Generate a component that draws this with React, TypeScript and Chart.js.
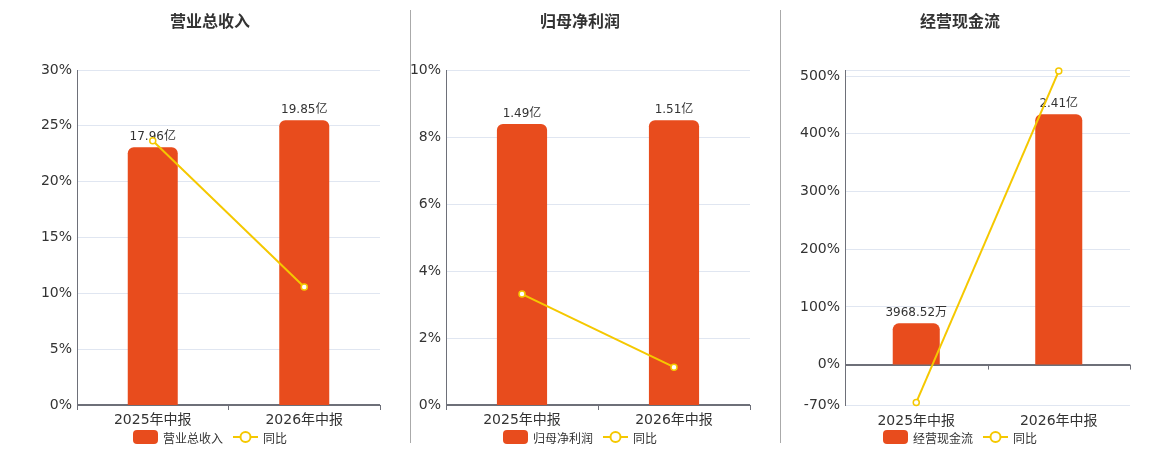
import React, { useEffect, useRef } from 'react';
import { Chart, registerables } from 'chart.js';

Chart.register(...registerables);

const periods = ['2025年中报', '2026年中报'];

// bar values in 亿
const revenue = [17.96, 19.85];
const netProfit = [1.49, 1.51];
const cashFlow = [0.396852, 2.41];

// 同比 in %
const revenueYoy = [23.67, 10.57];
const netProfitYoy = [3.31, 1.13];
const cashFlowYoy = [-65.5, 508.7];

// y axis ticks (%)
const revenueTicks = [0, 5, 10, 15, 20, 25, 30];
const netProfitTicks = [0, 2, 4, 6, 8, 10];
const cashFlowTicks = [-70, 0, 100, 200, 300, 400, 500];
const cashFlowMax = 510.5;

const BAR = '#E84C1D';
const LINE = '#F5C800';
const AXIS = '#6E7079';
const GRID = '#E0E6F1';
const TEXT = '#333';
const FONT = "'DejaVu Sans', 'Noto Sans CJK SC', sans-serif";

const fmt = (v: number) => (v >= 1 ? v.toFixed(2) + '亿' : (v * 10000).toFixed(2) + '万');

interface PanelProps {
  left: number;
  width: number;
  yWidth: number;
  padRight: number;
  centerX: number;
  title: string;
  bars: number[];
  yoy: number[];
  ticks: number[];
  max?: number;
}

const Panel: React.FC<PanelProps> = ({ left, width, yWidth, padRight, centerX, title, bars, yoy, ticks, max }) => {
  const ref = useRef<HTMLCanvasElement>(null);

  useEffect(() => {
    if (!ref.current) return;
    const yMin = ticks[0];
    const yMax = max ?? ticks[ticks.length - 1];
    const hasNeg = yMin < 0;
    const barMax = Math.max(...bars) / 0.85;
    const barMin = hasNeg ? (barMax * yMin) / yMax : 0;
    const tickList = ticks.includes(yMax) ? ticks : [...ticks, yMax];

    const valueLabels = {
      id: 'valueLabels',
      afterDatasetDraw(chart: any, args: any) {
        if (chart.data.datasets[args.index].type !== 'bar') return;
        const ctx = chart.ctx;
        ctx.save();
        ctx.font = `12px ${FONT}`;
        ctx.fillStyle = TEXT;
        ctx.textAlign = 'center';
        ctx.textBaseline = 'bottom';
        args.meta.data.forEach((el: any, i: number) => {
          ctx.fillText(fmt(bars[i]), el.x, el.y - 4);
        });
        ctx.restore();
      },
    };

    // tick marks on the zero line when the axis crosses zero
    const zeroTicks = {
      id: 'zeroTicks',
      afterDraw(chart: any) {
        if (!hasNeg) return;
        const xs = chart.scales.x;
        const y0 = chart.scales.y.getPixelForValue(0);
        const ctx = chart.ctx;
        ctx.save();
        ctx.strokeStyle = AXIS;
        ctx.lineWidth = 1;
        for (let i = 0; i <= periods.length; i++) {
          const px = Math.round(xs.getPixelForValue(i - 0.5)) + 0.5;
          ctx.beginPath();
          ctx.moveTo(px, y0);
          ctx.lineTo(px, y0 + 5);
          ctx.stroke();
        }
        ctx.restore();
      },
    };

    const chart = new Chart(ref.current, {
      type: 'bar',
      data: {
        labels: periods,
        datasets: [
          {
            type: 'line',
            label: '同比',
            data: yoy,
            yAxisID: 'y',
            borderColor: LINE,
            borderWidth: 2,
            pointRadius: 3,
            pointBackgroundColor: '#fff',
            pointBorderColor: LINE,
            pointBorderWidth: 1.5,
            clip: false,
            order: 0,
          } as any,
          {
            type: 'bar',
            label: title,
            data: bars,
            yAxisID: 'y1',
            backgroundColor: BAR,
            borderRadius: 6,
            barPercentage: 0.33,
            categoryPercentage: 1,
            order: 1,
          },
        ],
      },
      options: {
        animation: false,
        responsive: false,
        layout: { padding: { top: 70, bottom: 15, left: 0, right: padRight } },
        plugins: {
          legend: { display: false },
          title: { display: false },
          tooltip: { enabled: false },
        },
        scales: {
          x: {
            offset: true,
            grid: {
              display: !hasNeg,
              drawOnChartArea: false,
              drawTicks: true,
              tickLength: 5,
              color: AXIS,
              offset: true,
            },
            border: { display: false },
            ticks: { font: { size: 14, family: FONT }, color: TEXT, padding: hasNeg ? 3 : 2 },
            afterFit: (s: any) => {
              s.height = 30;
            },
          },
          y: {
            min: yMin,
            max: yMax,
            position: 'left',
            grid: {
              color: (c: any) => (c.tick && c.tick.value === 0 ? AXIS : GRID),
              lineWidth: (c: any) => (c.tick && c.tick.value === 0 ? 2 : 1),
              drawTicks: false,
            },
            border: { display: true, color: AXIS, width: 1 },
            ticks: {
              padding: 5,
              font: { size: 14, family: FONT },
              color: TEXT,
              callback: (v: any) => (ticks.includes(Number(v)) ? v + '%' : ''),
            },
            afterBuildTicks: (s: any) => {
              s.ticks = tickList.map((v) => ({ value: v }));
            },
            afterFit: (s: any) => {
              s.width = yWidth;
            },
          },
          y1: { display: false, min: barMin, max: barMax },
        },
      } as any,
      plugins: [valueLabels, zeroTicks],
    });

    return () => chart.destroy();
  }, [bars, yoy, ticks, max, title, yWidth, padRight]);

  return (
    <>
      <canvas
        ref={ref}
        width={width}
        height={450}
        style={{ position: 'absolute', left, top: 0, width, height: 450 }}
      />
      <div
        style={{
          position: 'absolute',
          left: centerX - 100,
          width: 200,
          top: 12,
          lineHeight: '20px',
          textAlign: 'center',
          fontSize: 16,
          fontWeight: 'bold',
          color: TEXT,
        }}
      >
        {title}
      </div>
      <div
        style={{
          position: 'absolute',
          left: centerX - 150,
          width: 300,
          top: 429,
          height: 16,
          display: 'flex',
          justifyContent: 'center',
          alignItems: 'center',
          fontSize: 12,
          color: TEXT,
          whiteSpace: 'nowrap',
        }}
      >
        <span style={{ display: 'inline-block', width: 25, height: 14, borderRadius: 4, background: BAR }} />
        <span style={{ marginLeft: 5 }}>{title}</span>
        <svg width={25} height={14} style={{ marginLeft: 10 }}>
          <line x1={0} y1={7} x2={25} y2={7} stroke={LINE} strokeWidth={2} />
          <circle cx={12.5} cy={7} r={5} fill="#fff" stroke={LINE} strokeWidth={2} />
        </svg>
        <span style={{ marginLeft: 5 }}>同比</span>
      </div>
    </>
  );
};

export default function App() {
  return (
    <div
      style={{
        position: 'absolute',
        left: 0,
        top: 0,
        width: 1160,
        height: 450,
        background: '#fff',
        fontFamily: FONT,
        overflow: 'hidden',
      }}
    >
      <Panel left={0} width={400} yWidth={77} padRight={20} centerX={210} title="营业总收入"
        bars={revenue} yoy={revenueYoy} ticks={revenueTicks} />
      <Panel left={405} width={366} yWidth={41} padRight={21} centerX={580} title="归母净利润"
        bars={netProfit} yoy={netProfitYoy} ticks={netProfitTicks} />
      <Panel left={782} width={378} yWidth={63} padRight={30} centerX={960} title="经营现金流"
        bars={cashFlow} yoy={cashFlowYoy} ticks={cashFlowTicks} max={cashFlowMax} />
      <div style={{ position: 'absolute', left: 410, top: 10, width: 1, height: 433, background: '#aaa' }} />
      <div style={{ position: 'absolute', left: 780, top: 10, width: 1, height: 433, background: '#aaa' }} />
    </div>
  );
}
